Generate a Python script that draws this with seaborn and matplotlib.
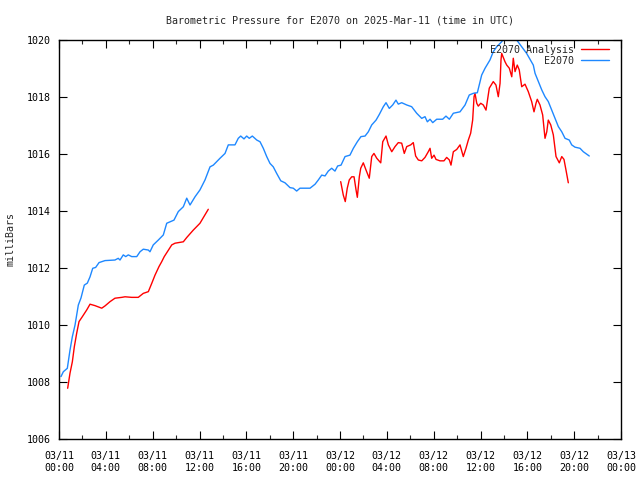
import numpy as np
import pandas as pd
import matplotlib
matplotlib.use("Agg")
import matplotlib.pyplot as plt
import matplotlib.dates as mdates
from matplotlib.lines import Line2D
import seaborn as sns

# ---- data (hours since 2025-03-11 00:00 UTC, pressure in mBar) ----
e2070_hours = [0.17, 0.37, 0.71, 0.94, 1.14, 1.37, 1.65, 1.88, 2.16, 2.42, 2.65, 2.88, 3.13, 3.42,
               3.93, 4.78, 5.06, 5.21, 5.49, 5.70, 5.92, 6.21, 6.64, 6.92, 7.20, 7.63, 7.77, 8.05,
               8.48, 8.91, 9.20, 9.48, 9.82, 10.19, 10.62, 10.91, 11.19, 11.62, 12.04, 12.47, 12.90,
               13.18, 13.75, 14.18, 14.46, 15.03, 15.31, 15.52, 15.80, 16.03, 16.25, 16.51, 16.89,
               17.17, 17.45, 17.74, 18.02, 18.30, 18.59, 18.94, 19.30, 19.73, 20.01, 20.30, 20.58,
               21.44, 21.87, 22.15, 22.44, 22.72, 23.00, 23.29, 23.57, 23.80, 24.09, 24.43, 24.85,
               25.14, 25.48, 25.79, 26.14, 26.42, 26.71, 27.08, 27.36, 27.70, 27.93, 28.21, 28.50,
               28.78, 28.98, 29.27, 29.70, 30.12, 30.55, 30.98, 31.26, 31.46, 31.69, 31.92, 32.26,
               32.77, 33.05, 33.34, 33.68, 34.25, 34.68, 35.04, 35.39, 35.73, 35.96, 36.10, 36.39,
               36.81, 37.09, 37.38, 37.81, 38.09, 38.60, 39.09, 39.52, 39.94, 40.51, 40.66, 40.94,
               41.23, 41.51, 41.79, 42.08, 42.36, 42.65, 42.94, 43.22, 43.58, 43.79, 44.07, 44.50,
               44.78, 45.29]
e2070_mbar = [1008.19, 1008.36, 1008.48, 1009.12, 1009.59, 1010.00, 1010.70, 1010.95, 1011.40,
              1011.47, 1011.69, 1011.99, 1012.02, 1012.19, 1012.26, 1012.28, 1012.34, 1012.28,
              1012.46, 1012.40, 1012.46, 1012.40, 1012.40, 1012.57, 1012.66, 1012.63, 1012.57,
              1012.81, 1012.98, 1013.16, 1013.57, 1013.62, 1013.68, 1013.98, 1014.15, 1014.45,
              1014.21, 1014.50, 1014.74, 1015.09, 1015.55, 1015.61, 1015.85, 1016.02, 1016.32,
              1016.32, 1016.55, 1016.63, 1016.53, 1016.63, 1016.55, 1016.63, 1016.49, 1016.43,
              1016.20, 1015.91, 1015.67, 1015.55, 1015.32, 1015.06, 1014.99, 1014.82, 1014.80,
              1014.70, 1014.80, 1014.80, 1014.94, 1015.09, 1015.26, 1015.23, 1015.40, 1015.50,
              1015.40, 1015.58, 1015.61, 1015.91, 1015.96, 1016.20, 1016.43, 1016.61, 1016.63,
              1016.78, 1017.02, 1017.19, 1017.39, 1017.66, 1017.80, 1017.60, 1017.72, 1017.89,
              1017.75, 1017.80, 1017.72, 1017.66, 1017.43, 1017.25, 1017.31, 1017.13, 1017.22,
              1017.10, 1017.22, 1017.22, 1017.33, 1017.22, 1017.43, 1017.48, 1017.72, 1018.07,
              1018.13, 1018.15, 1018.54, 1018.77, 1019.01, 1019.30, 1019.59, 1019.76, 1019.94,
              1020.12, 1020.20, 1020.00, 1019.76, 1019.53, 1019.12, 1018.83, 1018.54, 1018.25,
              1018.01, 1017.84, 1017.54, 1017.25, 1016.96, 1016.78, 1016.55, 1016.49, 1016.32,
              1016.24, 1016.20, 1016.08, 1015.93]

analysis1_hours = [0.74, 0.94, 1.14, 1.31, 1.51, 1.71, 1.99, 2.37, 2.65, 3.07, 3.65, 3.93, 4.36,
                   4.78, 5.36, 5.64, 6.21, 6.77, 7.20, 7.63, 7.92, 8.20, 8.54, 8.77, 8.99, 9.63,
                   9.91, 10.62, 10.91, 11.47, 12.04, 12.75]
analysis1_mbar = [1007.78, 1008.31, 1008.71, 1009.24, 1009.71, 1010.12, 1010.29, 1010.53, 1010.73,
                  1010.68, 1010.59, 1010.67, 1010.82, 1010.94, 1010.97, 1010.99, 1010.97, 1010.97,
                  1011.11, 1011.17, 1011.46, 1011.75, 1012.05, 1012.22, 1012.40, 1012.81, 1012.87,
                  1012.92, 1013.07, 1013.33, 1013.57, 1014.06]

analysis2_hours = [24.06, 24.28, 24.45, 24.62, 24.79, 25.00, 25.20, 25.37, 25.48, 25.65, 25.77,
                   25.99, 26.22, 26.50, 26.71, 26.90, 27.14, 27.48, 27.65, 27.93, 28.13, 28.42,
                   28.70, 28.98, 29.27, 29.49, 29.70, 30.04, 30.26, 30.46, 30.69, 30.98, 31.26,
                   31.54, 31.69, 31.83, 32.03, 32.20, 32.54, 32.88, 33.11, 33.34, 33.48, 33.68,
                   33.97, 34.25, 34.53, 34.76, 34.96, 35.16, 35.33, 35.45, 35.53, 35.68, 35.81,
                   36.02, 36.24, 36.47, 36.75, 37.09, 37.32, 37.52, 37.67, 37.75, 37.81, 38.09,
                   38.24, 38.46, 38.67, 38.80, 38.95, 39.14, 39.31, 39.52, 39.80, 40.08, 40.37,
                   40.57, 40.74, 40.85, 41.08, 41.31, 41.51, 41.66, 41.79, 42.00, 42.22, 42.45,
                   42.73, 42.94, 43.13, 43.30, 43.50]
analysis2_mbar = [1015.03, 1014.56, 1014.33, 1014.80, 1015.09, 1015.20, 1015.20, 1014.74, 1014.48,
                  1015.20, 1015.50, 1015.69, 1015.44, 1015.15, 1015.91, 1016.02, 1015.85, 1015.69,
                  1016.43, 1016.63, 1016.32, 1016.08, 1016.26, 1016.40, 1016.38, 1016.02, 1016.26,
                  1016.32, 1016.40, 1015.93, 1015.79, 1015.76, 1015.88, 1016.08, 1016.20, 1015.85,
                  1015.96, 1015.81, 1015.76, 1015.76, 1015.88, 1015.79, 1015.61, 1016.08, 1016.16,
                  1016.32, 1015.91, 1016.20, 1016.49, 1016.73, 1017.19, 1018.01, 1018.13, 1017.78,
                  1017.68, 1017.78, 1017.72, 1017.54, 1018.31, 1018.54, 1018.42, 1018.01, 1018.48,
                  1019.30, 1019.53, 1019.24, 1019.12, 1019.01, 1018.71, 1019.36, 1018.89, 1019.12,
                  1018.95, 1018.36, 1018.45, 1018.19, 1017.84, 1017.48, 1017.78, 1017.92, 1017.72,
                  1017.37, 1016.55, 1016.78, 1017.19, 1017.02, 1016.67, 1015.91, 1015.69, 1015.91,
                  1015.81, 1015.44, 1014.99]

title = "Barometric Pressure for E2070 on 2025-Mar-11 (time in UTC)"
ylabel = "milliBars"
label_analysis = "E2070 Analysis"
label_station = "E2070"
y_ticks = [1006, 1008, 1010, 1012, 1014, 1016, 1018, 1020]

base = pd.Timestamp("2025-03-11 00:00")


def frame(hours, vals):
    return pd.DataFrame({"time": base + pd.to_timedelta(hours, unit="h"), "mbar": vals})


RED = "#ff0000"
BLUE = "#1e88ff"

sns.set_style("ticks")
plt.rcParams["font.family"] = ["DejaVu Sans Mono", "DejaVu Sans"]
FS = 7.2

fig = plt.figure(figsize=(6.4, 4.8), dpi=100)
ax = fig.add_axes([59 / 640, 41 / 480, 562 / 640, 399 / 480])

sns.lineplot(data=frame(analysis1_hours, analysis1_mbar), x="time", y="mbar", ax=ax,
             color=RED, lw=1.0, estimator=None, sort=False)
sns.lineplot(data=frame(analysis2_hours, analysis2_mbar), x="time", y="mbar", ax=ax,
             color=RED, lw=1.0, estimator=None, sort=False)
sns.lineplot(data=frame(e2070_hours, e2070_mbar), x="time", y="mbar", ax=ax,
             color=BLUE, lw=1.0, estimator=None, sort=False)

ax.set_xlim(base, base + pd.Timedelta(hours=48))
ax.set_ylim(1006, 1020)
ax.set_yticks(y_ticks)
ax.set_yticklabels([str(t) for t in y_ticks])

ax.xaxis.set_major_locator(mdates.HourLocator(byhour=range(0, 24, 4)))
ax.xaxis.set_minor_locator(mdates.HourLocator(byhour=range(0, 24, 2)))
ax.xaxis.set_major_formatter(mdates.DateFormatter("%m/%d\n%H:%M"))

for s in ax.spines.values():
    s.set_visible(True)
    s.set_linewidth(1.0)
    s.set_color("black")

ax.tick_params(which="major", direction="in", length=6, width=0.8, top=True, right=True,
               labelsize=FS, colors="black")
ax.tick_params(which="minor", direction="in", length=3, width=0.8, top=True, right=True)
ax.tick_params(axis="x", which="major", pad=9)
ax.tick_params(axis="y", which="major", pad=6)
ax.grid(False)

ax.set_xlabel("")
ax.set_ylabel(ylabel, fontsize=FS, labelpad=8)
ax.set_title(title, fontsize=FS, pad=12)

handles = [Line2D([], [], color=RED, lw=1.0), Line2D([], [], color=BLUE, lw=1.0)]
ax.legend(handles, [label_analysis, label_station], loc="upper right", frameon=False,
          markerfirst=False, alignment="right", fontsize=FS, handlelength=2.8,
          handletextpad=0.7, labelspacing=0.08, borderaxespad=0.0, borderpad=0.0,
          bbox_to_anchor=((609 - 59) / 562, 0.988))

fig.savefig("out.png", dpi=100)
